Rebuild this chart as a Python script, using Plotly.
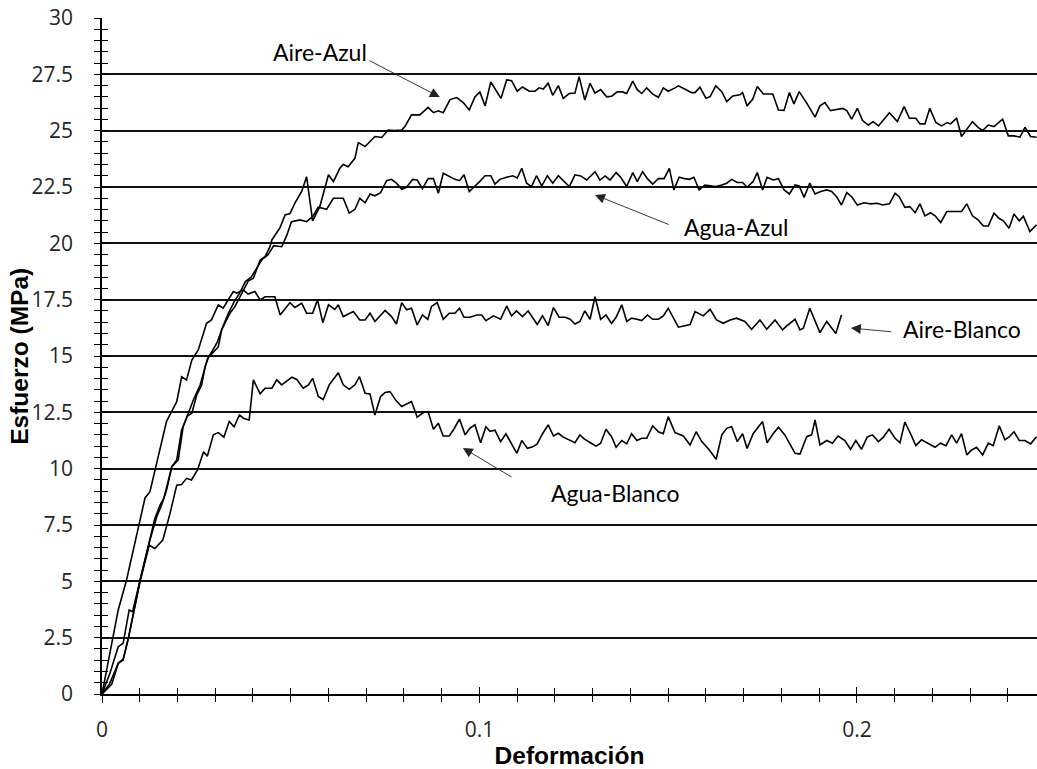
import plotly.graph_objects as go

# ---- data (strain, stress MPa) ----
aire_azul = [
    (0, 0), (0.0021, 0.92), (0.0043, 2.1), (0.0056, 2.25), (0.0072, 3.73), (0.0081, 3.65),
    (0.0101, 5.06), (0.0123, 6.54), (0.014, 7.79), (0.0154, 8.39), (0.0164, 8.69),
    (0.0185, 10.09), (0.0198, 10.39), (0.0211, 11.72), (0.0226, 12.34), (0.0238, 12.46),
    (0.0251, 13.27), (0.0264, 13.71), (0.0273, 14.53), (0.0282, 14.94), (0.0295, 15.19),
    (0.0308, 15.4), (0.0317, 16.16), (0.033, 16.6), (0.0339, 16.9), (0.0352, 17.19),
    (0.0364, 17.56), (0.0374, 17.93), (0.0388, 18.34), (0.0401, 18.45), (0.0419, 19.26),
    (0.0432, 19.41), (0.0445, 19.85), (0.045, 20.15), (0.0463, 20.45), (0.0472, 20.71),
    (0.0485, 21.26), (0.0498, 21.32), (0.0511, 21.78), (0.0529, 22.3), (0.0542, 22.96),
    (0.0558, 21.0), (0.0577, 21.63), (0.06, 23.04), (0.0613, 22.74), (0.063, 23.33),
    (0.0639, 23.5), (0.0652, 23.4), (0.067, 23.77), (0.0679, 24.47), (0.0697, 24.3),
    (0.0723, 24.74), (0.0741, 24.7), (0.0758, 25.03), (0.0776, 25.0), (0.0794, 25.03),
    (0.0803, 25.2), (0.082, 25.7), (0.0842, 25.7), (0.0864, 26.03), (0.0878, 25.8),
    (0.0891, 25.88), (0.0904, 25.8), (0.0922, 26.38), (0.094, 26.47), (0.0957, 26.25),
    (0.0973, 25.92), (0.0988, 26.5), (0.1001, 26.72), (0.1015, 26.1), (0.103, 27.16),
    (0.1044, 26.79), (0.1057, 26.43), (0.1072, 27.25), (0.1085, 27.22), (0.11, 26.75),
    (0.1114, 26.94), (0.1132, 26.75), (0.1147, 26.75), (0.1158, 26.9), (0.1169, 26.85),
    (0.1182, 27.11), (0.1194, 26.57), (0.1209, 27.0), (0.1222, 26.43), (0.1238, 26.65),
    (0.1253, 26.67), (0.1264, 27.4), (0.1279, 26.36), (0.1293, 27.1), (0.1306, 26.67),
    (0.1321, 26.82), (0.1337, 26.5), (0.135, 26.53), (0.1365, 26.72), (0.1379, 26.72),
    (0.139, 26.65), (0.1406, 27.2), (0.1418, 26.82), (0.143, 26.65), (0.1443, 26.9),
    (0.1459, 26.62), (0.1474, 26.48), (0.1487, 26.9), (0.15, 26.75), (0.1518, 26.9),
    (0.1527, 26.99), (0.1545, 26.84), (0.1562, 26.69), (0.1571, 26.69), (0.1584, 26.93),
    (0.16, 26.44), (0.1611, 26.51), (0.1626, 26.99), (0.1642, 26.73), (0.1655, 26.29),
    (0.1671, 26.54), (0.169, 26.59), (0.1697, 26.69), (0.1709, 26.1), (0.1724, 26.4),
    (0.1736, 26.96), (0.1752, 26.63), (0.1777, 26.63), (0.1792, 25.92), (0.1807, 25.9),
    (0.1821, 26.69), (0.1833, 26.19), (0.1847, 26.73), (0.1867, 26.22), (0.1889, 25.6),
    (0.1902, 26.1), (0.1915, 26.25), (0.193, 25.89), (0.1946, 25.95), (0.1962, 25.99),
    (0.1973, 25.89), (0.1986, 25.51), (0.2001, 25.99), (0.2015, 25.45), (0.203, 25.25),
    (0.2043, 25.4), (0.2057, 25.21), (0.2072, 25.51), (0.2086, 25.8), (0.2107, 25.4),
    (0.2125, 26.07), (0.2139, 25.55), (0.2156, 25.55), (0.2167, 25.3), (0.218, 25.3),
    (0.2193, 25.99), (0.2209, 25.36), (0.2224, 25.21), (0.2239, 25.36), (0.2248, 25.3),
    (0.2264, 25.55), (0.2277, 24.74), (0.2289, 25.0), (0.2306, 25.4), (0.2321, 25.15),
    (0.2333, 25.0), (0.2348, 25.25), (0.2363, 25.18), (0.2386, 25.51), (0.2401, 24.77),
    (0.2416, 24.77), (0.2432, 24.71), (0.2445, 25.15), (0.246, 24.74), (0.2476, 24.71),
]

agua_azul = [
    (0, 0), (0.0026, 0.44), (0.0043, 1.36), (0.0056, 1.51), (0.007, 2.47), (0.0101, 5.06),
    (0.0127, 6.83), (0.0145, 7.87), (0.0158, 8.39), (0.0171, 9.05), (0.0185, 10.09),
    (0.0202, 10.39), (0.0215, 11.86), (0.0229, 12.46), (0.0242, 13.05), (0.026, 13.71),
    (0.0268, 14.2), (0.028, 14.9), (0.0295, 15.3), (0.0305, 15.6), (0.032, 16.3),
    (0.0335, 16.9), (0.035, 17.4), (0.0365, 17.8), (0.038, 18.3), (0.0395, 18.5),
    (0.041, 18.9), (0.0425, 19.3), (0.044, 19.5), (0.0455, 19.9), (0.0476, 19.85),
    (0.0489, 20.33), (0.0502, 20.96), (0.0525, 21.04), (0.0542, 20.96), (0.0558, 21.18),
    (0.0573, 21.6), (0.0595, 21.51), (0.0613, 22.0), (0.063, 22.0), (0.0639, 22.0),
    (0.0655, 21.34), (0.067, 21.51), (0.0683, 22.0), (0.0697, 21.8), (0.071, 22.19),
    (0.0723, 22.11), (0.0738, 22.25), (0.0754, 22.78), (0.0767, 22.84), (0.078, 22.67),
    (0.0794, 22.4), (0.0807, 22.49), (0.0823, 22.84), (0.0835, 22.81), (0.0849, 22.43),
    (0.0864, 22.87), (0.0878, 22.87), (0.0891, 22.22), (0.0904, 23.11), (0.092, 22.96),
    (0.0935, 22.84), (0.0947, 22.78), (0.0959, 23.04), (0.0973, 22.3), (0.0988, 22.52),
    (0.1001, 22.75), (0.1015, 23.0), (0.103, 23.0), (0.1041, 22.63), (0.1054, 22.84),
    (0.1072, 22.93), (0.1088, 23.0), (0.11, 22.9), (0.1112, 23.33), (0.1125, 22.67),
    (0.1138, 22.52), (0.1151, 23.0), (0.1165, 22.55), (0.118, 23.0), (0.1194, 22.67),
    (0.1209, 23.0), (0.1222, 22.78), (0.1238, 22.52), (0.1253, 23.04), (0.1268, 22.99),
    (0.1284, 22.81), (0.1306, 23.18), (0.1319, 22.81), (0.1333, 22.99), (0.1346, 22.81),
    (0.1362, 23.14), (0.1374, 22.93), (0.139, 22.52), (0.1406, 23.14), (0.1418, 22.74),
    (0.1432, 23.18), (0.1445, 22.87), (0.1459, 22.63), (0.1474, 22.87), (0.1489, 22.87),
    (0.1503, 23.33), (0.1515, 22.37), (0.1529, 22.93), (0.1544, 22.87), (0.1556, 22.84),
    (0.1568, 22.93), (0.1582, 22.37), (0.1597, 22.59), (0.1611, 22.55), (0.1626, 22.52),
    (0.1642, 22.59), (0.1655, 22.67), (0.1668, 22.84), (0.1683, 22.7), (0.1697, 22.7),
    (0.1709, 22.49), (0.1725, 22.74), (0.1736, 23.14), (0.175, 22.37), (0.1762, 22.93),
    (0.1778, 22.81), (0.1792, 22.87), (0.1807, 22.37), (0.1821, 22.19), (0.1836, 22.59),
    (0.1847, 22.55), (0.186, 22.04), (0.1875, 22.67), (0.1889, 22.19), (0.1904, 22.3),
    (0.192, 22.37), (0.1933, 22.3), (0.1946, 22.07), (0.1959, 21.7), (0.1973, 22.25),
    (0.1986, 22.07), (0.2001, 21.7), (0.2019, 21.8), (0.2036, 21.75), (0.2054, 21.78),
    (0.2068, 21.7), (0.2086, 21.75), (0.2101, 22.22), (0.2112, 22.07), (0.2127, 21.6),
    (0.214, 21.63), (0.2154, 21.36), (0.2167, 21.75), (0.218, 21.22), (0.2195, 21.36),
    (0.2207, 21.22), (0.2222, 20.92), (0.2238, 21.41), (0.2255, 21.41), (0.2277, 21.41),
    (0.2291, 21.75), (0.2306, 21.22), (0.2321, 21.04), (0.2335, 20.77), (0.2348, 20.77),
    (0.2363, 21.34), (0.2377, 21.1), (0.2388, 21.0), (0.2403, 20.67), (0.2416, 21.3),
    (0.243, 21.0), (0.2441, 21.2), (0.2458, 20.52), (0.2476, 20.82),
]

aire_blanco = [
    (0, 0), (0.0043, 3.73), (0.0065, 5.06), (0.0083, 6.39), (0.0114, 8.7), (0.0127, 8.98),
    (0.0145, 10.25), (0.0171, 12.1), (0.0198, 12.97), (0.0211, 14.08), (0.0224, 13.94),
    (0.0238, 14.82), (0.0255, 15.27), (0.0277, 16.45), (0.029, 16.6), (0.0308, 17.27),
    (0.0321, 17.12), (0.0348, 17.86), (0.0357, 17.79), (0.0374, 17.93), (0.0387, 17.75),
    (0.0405, 17.86), (0.0419, 17.49), (0.0432, 17.63), (0.0458, 17.63), (0.0472, 16.82),
    (0.0498, 17.37), (0.0511, 17.15), (0.0529, 17.34), (0.0542, 16.9), (0.0558, 16.9),
    (0.0571, 17.49), (0.0585, 16.48), (0.06, 17.27), (0.0617, 17.07), (0.0626, 17.27),
    (0.0639, 16.75), (0.0666, 16.97), (0.0683, 16.6), (0.0697, 16.6), (0.071, 16.9),
    (0.0723, 16.53), (0.075, 17.02), (0.0767, 16.75), (0.078, 16.42), (0.0794, 17.37),
    (0.0807, 17.05), (0.082, 17.12), (0.0835, 16.38), (0.0849, 16.82), (0.0863, 16.63),
    (0.0873, 17.2), (0.0888, 17.37), (0.0904, 16.63), (0.092, 16.9), (0.0935, 16.9),
    (0.0947, 17.12), (0.0959, 16.72), (0.0975, 16.72), (0.0993, 16.82), (0.1006, 16.82),
    (0.1017, 16.57), (0.1037, 16.78), (0.1056, 16.63), (0.1072, 17.22), (0.1085, 16.78),
    (0.1098, 17.0), (0.1114, 16.75), (0.1129, 17.0), (0.1143, 16.68), (0.1153, 16.4),
    (0.1167, 16.78), (0.1182, 16.35), (0.1196, 17.15), (0.1211, 16.72), (0.1227, 16.72),
    (0.124, 16.63), (0.1253, 16.42), (0.1266, 16.53), (0.1279, 17.0), (0.1293, 16.63),
    (0.1306, 17.63), (0.1321, 16.63), (0.1335, 16.82), (0.135, 16.45), (0.1362, 16.72),
    (0.1377, 17.27), (0.139, 16.53), (0.1403, 16.68), (0.1417, 16.63), (0.143, 16.57),
    (0.1445, 16.82), (0.1459, 16.63), (0.1474, 16.63), (0.1487, 16.78), (0.15, 17.12),
    (0.1513, 16.68), (0.1527, 16.28), (0.1558, 16.4), (0.1571, 16.97), (0.1593, 16.78),
    (0.1611, 17.07), (0.1628, 16.6), (0.1646, 16.45), (0.1664, 16.6), (0.1681, 16.68),
    (0.1703, 16.53), (0.1721, 16.19), (0.1743, 16.6), (0.1761, 16.19), (0.1783, 16.6),
    (0.1803, 16.16), (0.1814, 16.34), (0.1836, 16.63), (0.1849, 16.16), (0.1858, 16.23),
    (0.1875, 17.12), (0.1889, 16.6), (0.1902, 16.04), (0.192, 16.53), (0.1944, 16.0),
    (0.1959, 16.82),
]

agua_blanco = [
    (0, 0), (0.002, 0.45), (0.0043, 1.36), (0.0056, 1.55), (0.007, 2.5), (0.0101, 5.0),
    (0.0125, 6.6), (0.014, 6.46), (0.0161, 6.83), (0.018, 8.0), (0.0198, 9.27),
    (0.0211, 9.3), (0.0224, 9.57), (0.0237, 9.5), (0.0253, 9.94), (0.0269, 10.75),
    (0.0279, 10.55), (0.0295, 11.5), (0.0308, 11.6), (0.0323, 11.4), (0.0337, 12.09),
    (0.035, 11.86), (0.0364, 12.38), (0.0376, 12.23), (0.039, 12.16), (0.0401, 13.94),
    (0.0419, 13.32), (0.0432, 13.57), (0.045, 13.57), (0.0463, 13.94), (0.0476, 13.72),
    (0.0503, 14.06), (0.0516, 13.96), (0.0533, 13.57), (0.0547, 13.72), (0.0558, 14.01),
    (0.0573, 13.2), (0.0586, 13.07), (0.0602, 13.72), (0.0626, 14.26), (0.0639, 13.72),
    (0.0655, 13.52), (0.067, 13.72), (0.0682, 14.08), (0.0697, 13.35), (0.071, 13.32),
    (0.0723, 12.38), (0.0738, 13.2), (0.075, 13.38), (0.0763, 13.42), (0.0779, 13.02),
    (0.0794, 12.76), (0.082, 12.98), (0.0835, 12.28), (0.0851, 12.49), (0.0864, 12.53),
    (0.0878, 11.75), (0.0891, 12.02), (0.0904, 11.45), (0.092, 11.45), (0.0932, 11.75),
    (0.0947, 12.2), (0.0962, 11.5), (0.0975, 11.8), (0.0988, 11.95), (0.1003, 11.15),
    (0.1017, 11.86), (0.1028, 11.66), (0.1041, 11.71), (0.1056, 11.2), (0.107, 11.55),
    (0.1085, 11.13), (0.1099, 10.68), (0.1112, 11.25), (0.1127, 10.9), (0.1141, 10.97),
    (0.1153, 11.1), (0.1167, 11.55), (0.1182, 11.94), (0.1196, 11.45), (0.1209, 11.57),
    (0.1222, 11.4), (0.1238, 11.28), (0.1253, 11.15), (0.1266, 11.5), (0.1279, 11.3),
    (0.1294, 11.15), (0.1309, 11.0), (0.1321, 11.13), (0.1335, 11.75), (0.135, 11.42),
    (0.1362, 10.95), (0.1377, 11.25), (0.139, 11.1), (0.1403, 11.55), (0.1417, 11.25),
    (0.143, 11.35), (0.1443, 11.35), (0.1459, 11.9), (0.1474, 11.64), (0.1487, 11.55),
    (0.15, 12.31), (0.1518, 11.6), (0.154, 11.45), (0.1558, 11.05), (0.1574, 11.64),
    (0.1589, 11.2), (0.1609, 10.83), (0.1627, 10.42), (0.1642, 11.5), (0.1655, 11.79),
    (0.1668, 11.87), (0.1683, 11.2), (0.1697, 11.55), (0.1709, 10.9), (0.1725, 11.55),
    (0.175, 12.09), (0.1762, 11.15), (0.1778, 11.55), (0.1792, 11.84), (0.1809, 11.5),
    (0.1836, 10.68), (0.1849, 10.65), (0.1867, 11.42), (0.188, 11.5), (0.1889, 12.16),
    (0.1902, 11.05), (0.192, 11.25), (0.1935, 11.13), (0.195, 11.45), (0.1968, 11.25),
    (0.1983, 10.86), (0.1997, 11.25), (0.2012, 10.86), (0.2027, 11.4), (0.2041, 11.5),
    (0.2057, 11.2), (0.207, 11.4), (0.2085, 11.75), (0.2101, 11.35), (0.2114, 11.15),
    (0.2127, 12.07), (0.2142, 11.55), (0.2156, 11.02), (0.2171, 11.28), (0.2189, 11.13),
    (0.2207, 10.95), (0.2221, 11.13), (0.2236, 11.02), (0.2251, 11.5), (0.2264, 11.13),
    (0.2277, 11.55), (0.2291, 10.61), (0.2304, 10.83), (0.2317, 10.95), (0.2333, 10.61),
    (0.2348, 11.13), (0.2361, 11.02), (0.2377, 11.9), (0.2392, 11.28), (0.2404, 11.42),
    (0.2416, 11.64), (0.243, 11.25), (0.2445, 11.25), (0.246, 11.1), (0.2476, 11.42),
]

series = [aire_azul, agua_azul, aire_blanco, agua_blanco]

# label text, label position, arrow head, arrow tail (data coordinates)
labels = ["Aire-Azul", "Agua-Azul", "Aire-Blanco", "Agua-Blanco"]
label_pos = [(0.0578, 28.49), (0.1680, 20.73), (0.2278, 16.20), (0.1359, 8.92)]
arrow_head = [(0.0895, 26.49), (0.1306, 22.15), (0.1984, 16.24), (0.0956, 10.92)]
arrow_tail = [(0.0705, 28.14), (0.1505, 20.81), (0.2095, 16.07), (0.1089, 9.59)]

X_MAX = 0.2477
Y_MAX = 30

TICK_FONT = dict(family="'Open Sans', Lato, sans-serif", size=21, color="#262626")
TITLE_FONT = dict(family="'Liberation Sans', Arial, sans-serif", size=24.5, color="#000")

fig = go.Figure()
for s in series:
    fig.add_trace(go.Scatter(
        x=[p[0] for p in s], y=[p[1] for p in s], mode="lines",
        line=dict(color="#000", width=1.6), showlegend=False, hoverinfo="skip",
    ))
# empty trace to carry the overlay axes (inner halves of the crossing ticks)
fig.add_trace(go.Scatter(x=[], y=[], xaxis="x2", yaxis="y2", showlegend=False, hoverinfo="skip"))

for txt, (lx, ly) in zip(labels, label_pos):
    fig.add_annotation(x=lx, y=ly, text=txt, showarrow=False, xanchor="center", yanchor="middle",
                       font=dict(family="Lato, 'Open Sans', sans-serif", size=23, color="#000"))
for (hx, hy), (tx, ty) in zip(arrow_head, arrow_tail):
    fig.add_annotation(x=hx, y=hy, ax=tx, ay=ty, axref="x", ayref="y", text="",
                       showarrow=True, arrowhead=2, arrowsize=2.2, arrowwidth=0.9,
                       arrowcolor="#222")

# y-axis title placed beside the tick labels
fig.add_annotation(xref="paper", yref="paper", x=-0.089, y=0.5, text="<b>Esfuerzo (MPa)</b>",
                   textangle=-90, showarrow=False, xanchor="center", yanchor="middle",
                   font=TITLE_FONT)

fig.update_layout(
    width=1037, height=769,
    margin=dict(l=102, r=0, t=18, b=75, autoexpand=False),
    paper_bgcolor="white", plot_bgcolor="white",
    xaxis=dict(
        range=[0, X_MAX], tick0=0, dtick=0.1, ticks="outside", ticklen=7, tickwidth=1.3,
        tickcolor="#000", showline=True, linecolor="#000", linewidth=1.6,
        showgrid=False, zeroline=False, tickfont=TICK_FONT, ticklabelstandoff=9,
        minor=dict(dtick=0.01, ticks="outside", ticklen=6, tickwidth=1.3, tickcolor="#000", showgrid=False),
        title=dict(text="<b>Deformación</b>", font=TITLE_FONT, standoff=9),
        automargin=False,
    ),
    yaxis=dict(
        range=[0, Y_MAX], tick0=0, dtick=2.5, ticks="outside", ticklen=6, tickwidth=1.3,
        tickcolor="#000", showline=True, linecolor="#000", linewidth=1.6,
        showgrid=True, gridcolor="#111", gridwidth=1.5, zeroline=False,
        tickfont=TICK_FONT, ticklabelstandoff=17,
        minor=dict(dtick=0.5, ticks="outside", ticklen=6, tickwidth=1.3, tickcolor="#000", showgrid=False),
        automargin=False,
    ),
    xaxis2=dict(
        range=[0, X_MAX], overlaying="x", anchor="y2", side="bottom", tick0=0, dtick=0.1,
        ticks="inside", ticklen=7, tickwidth=1.3, tickcolor="#000", showticklabels=False,
        showline=False, showgrid=False, zeroline=False,
        minor=dict(dtick=0.01, ticks="inside", ticklen=6, tickwidth=1.3, tickcolor="#000", showgrid=False),
    ),
    yaxis2=dict(
        range=[0, Y_MAX], overlaying="y", anchor="x2", side="left", tick0=0, dtick=2.5,
        ticks="inside", ticklen=6, tickwidth=1.3, tickcolor="#000", showticklabels=False,
        showline=False, showgrid=False, zeroline=False,
        minor=dict(dtick=0.5, ticks="inside", ticklen=6, tickwidth=1.3, tickcolor="#000", showgrid=False),
    ),
)

fig.write_html("out.html")
